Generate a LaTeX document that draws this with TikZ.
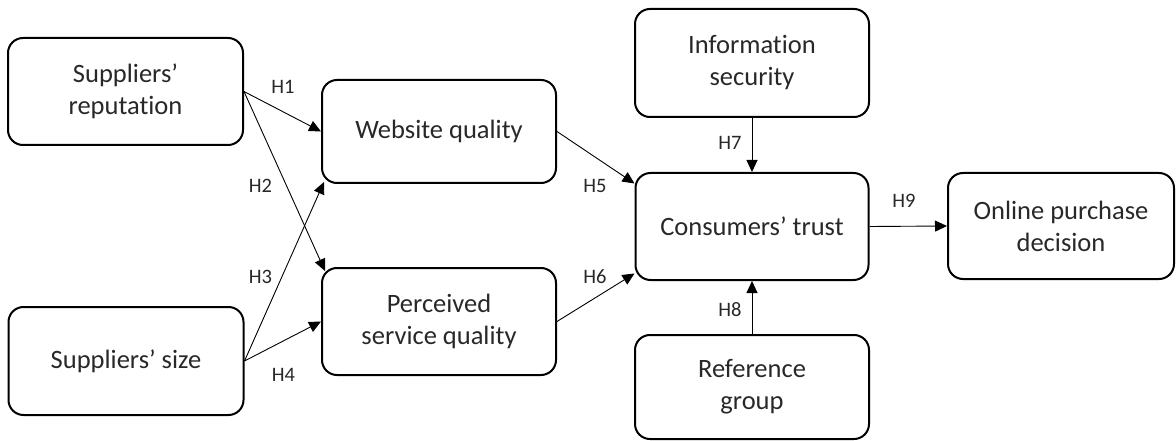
\documentclass[tikz,border=0pt]{standalone}
\usepackage{fontspec}
\setmainfont{Carlito}[Ligatures=NoCommon]
\usepackage{tikz}
\usetikzlibrary{arrows.meta}
\definecolor{txtgray}{RGB}{40,40,40}

\begin{document}
\begin{tikzpicture}[x=1pt,y=1pt,
  box/.style={draw,line width=2pt,rounded corners=15pt,align=center,
    text=txtgray,font=\fontsize{26.5}{32}\selectfont,inner sep=0pt},
  hyp/.style={line width=0.9pt,-{Triangle[length=12pt,width=11pt]}},
  lbl/.style={text=txtgray,font=\fontsize{20.5}{24}\selectfont,inner sep=0pt}]
  \useasboundingbox (0,0) rectangle (1176,-441);
  % constructs
  \node[box,minimum width=235pt,minimum height=107pt] (rep) at (125.5,-91.5)
    {Suppliers'\\reputation};
  \node[box,minimum width=235pt,minimum height=108pt] (size) at (126,-361)
    {Suppliers' size};
  \node[box,minimum width=234pt,minimum height=103pt] (web) at (439,-131.5)
    {Website quality};
  \node[box,minimum width=234pt,minimum height=107pt] (perc) at (439,-321.5)
    {Perceived\\service quality};
  \node[box,minimum width=234pt,minimum height=108pt] (info) at (752,-63)
    {Information\\security};
  \node[box,minimum width=233pt,minimum height=107pt] (trust) at (752,-226.5)
    {Consumers' trust};
  \node[box,minimum width=234pt,minimum height=104pt] (refg) at (752,-387)
    {Reference\\group};
  \node[box,minimum width=226pt,minimum height=106pt] (buy) at (1061,-226)
    {Online purchase\\decision};
  % hypotheses
  \draw[hyp] (rep.east) -- (web.west);
  \draw[hyp] (rep.east) -- ([xshift=4pt,yshift=-4pt]perc.north west);
  \draw[hyp] (size.east) -- ([xshift=3pt,yshift=2pt]web.south west);
  \draw[hyp] (size.east) -- (perc.west);
  \draw[hyp] (web.east) -- ([yshift=43pt]trust.west);
  \draw[hyp] (perc.east) -- ([yshift=-47pt]trust.west);
  \draw[hyp] (info.south) -- (trust.north);
  \draw[hyp] (refg.north) -- (trust.south);
  \draw[hyp] (trust.east) -- (buy.west);
  \node[lbl] (h1) at (283,-87) {H1};
  \node[lbl] (h2) at (260.5,-185.5) {H2};
  \node[lbl] (h3) at (260.5,-276.5) {H3};
  \node[lbl] (h4) at (283.5,-375) {H4};
  \node[lbl] (h5) at (595,-185.5) {H5};
  \node[lbl] (h6) at (595,-276.5) {H6};
  \node[lbl] (h7) at (730,-143) {H7};
  \node[lbl] (h8) at (730,-310) {H8};
  \node[lbl] (h9) at (904,-200.5) {H9};
\end{tikzpicture}
\end{document}
